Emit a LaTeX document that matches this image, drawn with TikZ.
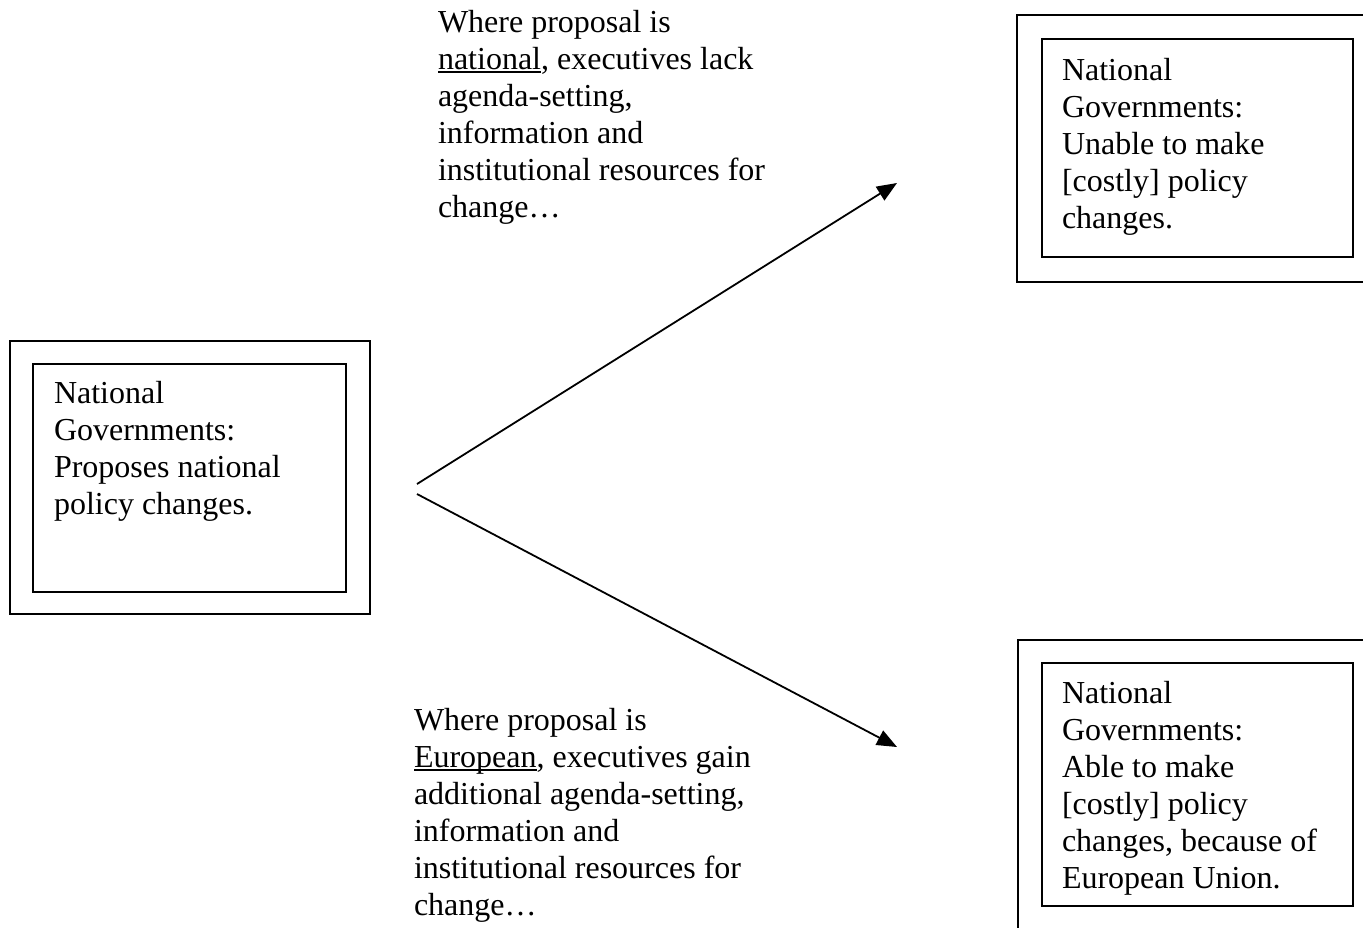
\documentclass[tikz,border=0pt]{standalone}
\usepackage{fontspec}
\setmainfont{Liberation Serif}
\usetikzlibrary{arrows.meta}
\newcommand\myul[1]{\setbox0\hbox{#1}\rlap{\rule[-3.5pt]{\wd0}{1.8pt}}\box0}
\tikzset{
  box/.style={draw, line width=1.8pt, anchor=north west, inner sep=0pt, outer sep=0pt},
  txt/.style={anchor=north west, inner sep=0pt, outer sep=0pt, align=left,
    font=\fontsize{32}{37}\selectfont},
  conn/.style={line width=1.8pt, -{Triangle[length=20pt,width=16pt]}}
}
\begin{document}
\begin{tikzpicture}[x=1pt,y=-1pt]
\useasboundingbox (0,0) rectangle (1363,927);
\clip (0,0) rectangle (1363,927);
% left box
\node[box, minimum width=360pt, minimum height=273pt] (lo) at (10,341) {};
\node[box, minimum width=313pt, minimum height=228pt] (li) at (33,364) {};
\node[txt] (lt) at (54,{403-25.9}) {\strut National\\Governments:\\Proposes national\\policy changes.};
% top right box
\node[box, minimum width=380pt, minimum height=267pt] (to) at (1017,15) {};
\node[box, minimum width=311pt, minimum height=218pt] (ti) at (1042,39) {};
\node[txt] (tt) at (1062,{80-25.9}) {\strut National\\Governments:\\Unable to make\\{[}costly{]} policy\\changes.};
% bottom right box
\node[box, minimum width=380pt, minimum height=320pt] (bo) at (1018,640) {};
\node[box, minimum width=311pt, minimum height=243pt] (bi) at (1042,663) {};
\node[txt] (bt) at (1062,{703-25.9}) {\strut National\\Governments:\\Able to make\\{[}costly{]} policy\\changes, because of\\European Union.};
% labels
\node[txt] (ut) at (438,{32-25.9}) {\strut Where proposal is\\\myul{national}, executives lack\\agenda-setting,\\information and\\institutional resources for\\change…};
\node[txt] (dt) at (414,{730-25.9}) {\strut Where proposal is\\\myul{European}, executives gain\\additional agenda-setting,\\information and\\institutional resources for\\change…};
% connectors
\coordinate (s1) at (417,484);
\coordinate (s2) at (417,494);
\coordinate (e1) at (897,183);
\coordinate (e2) at (897,747);
\draw[conn] (s1) -- (e1);
\draw[conn] (s2) -- (e2);
\end{tikzpicture}
\end{document}
